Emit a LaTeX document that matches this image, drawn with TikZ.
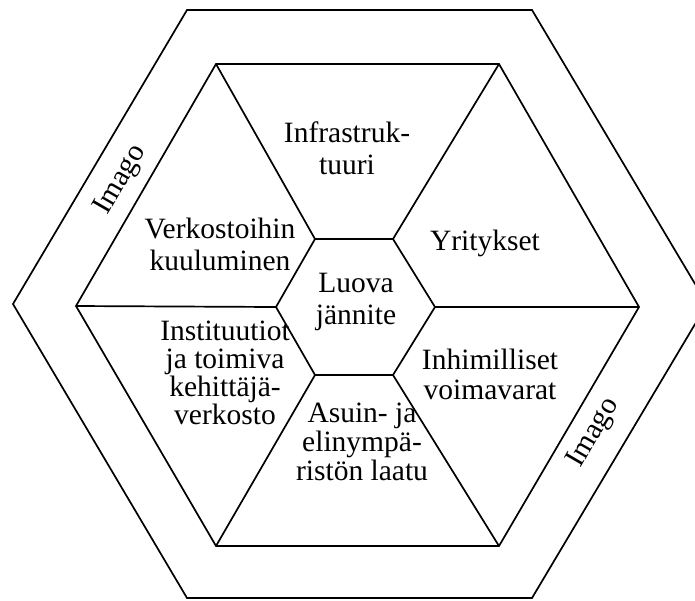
\documentclass[tikz,border=0pt]{standalone}
\usepackage{fontspec}
\setmainfont{Liberation Serif}
\begin{document}
\begin{tikzpicture}[x=1pt,y=-1pt,
  hexline/.style={line width=1.7pt,line join=miter},
  lbl/.style={align=center,font=\fontsize{29.5}{32}\selectfont,inner sep=0pt}]
\useasboundingbox (0,0) rectangle (695,600);
\clip (0,0) rectangle (695,600);
% outer hexagon
\coordinate (o1) at (187,10);
\coordinate (o2) at (532,10);
\coordinate (o3) at (707,304);
\coordinate (o4) at (532,598);
\coordinate (o5) at (187,598);
\coordinate (o6) at (13,304);
% inner hexagon
\coordinate (i1) at (216,64);
\coordinate (i2) at (499,64);
\coordinate (i3) at (639,307);
\coordinate (i4) at (499,546);
\coordinate (i5) at (216,546);
\coordinate (i6) at (76,306);
% central hexagon
\coordinate (c1) at (315,239);
\coordinate (c2) at (393,239);
\coordinate (c3) at (435,307);
\coordinate (c4) at (393,375);
\coordinate (c5) at (315,375);
\coordinate (c6) at (276,307);
\draw[hexline] (o1)--(o2)--(o3)--(o4)--(o5)--(o6)--cycle;
\draw[hexline] (i1)--(i2)--(i3)--(i4)--(i5)--(i6)--cycle;
\draw[hexline] (c1)--(c2)--(c3)--(c4)--(c5)--(c6)--cycle;
\draw[hexline] (c1)--(i1) (c2)--(i2) (c3)--(i3) (c4)--(i4) (c5)--(i5) (c6)--(i6);
% labels
\node[lbl] (infra) at (347,148) {Infrastruk-\\tuuri};
\node[lbl] (verk) at (220,244) {Verkostoihin\\kuuluminen};
\node[lbl,anchor=base] (yrit) at (485,250) {Yritykset};
\node[lbl] (luova) at (356,302) {Luova\\jännite};
\node[lbl,font=\fontsize{29.5}{28}\selectfont] (inst) at (225,373) {Instituutiot\\ja toimiva\\kehittäjä-\\verkosto};
\node[lbl,font=\fontsize{29.5}{30}\selectfont] (inhim) at (490,374) {Inhimilliset\\voimavarat};
\node[lbl,font=\fontsize{29.5}{29}\selectfont] (asuin) at (362,442) {Asuin- ja\\elinympä-\\ristön laatu};
\node[lbl,rotate=60] (imago1) at (121,180) {Imago};
\node[lbl,rotate=60] (imago2) at (594,433) {Imago};
\end{tikzpicture}
\end{document}
